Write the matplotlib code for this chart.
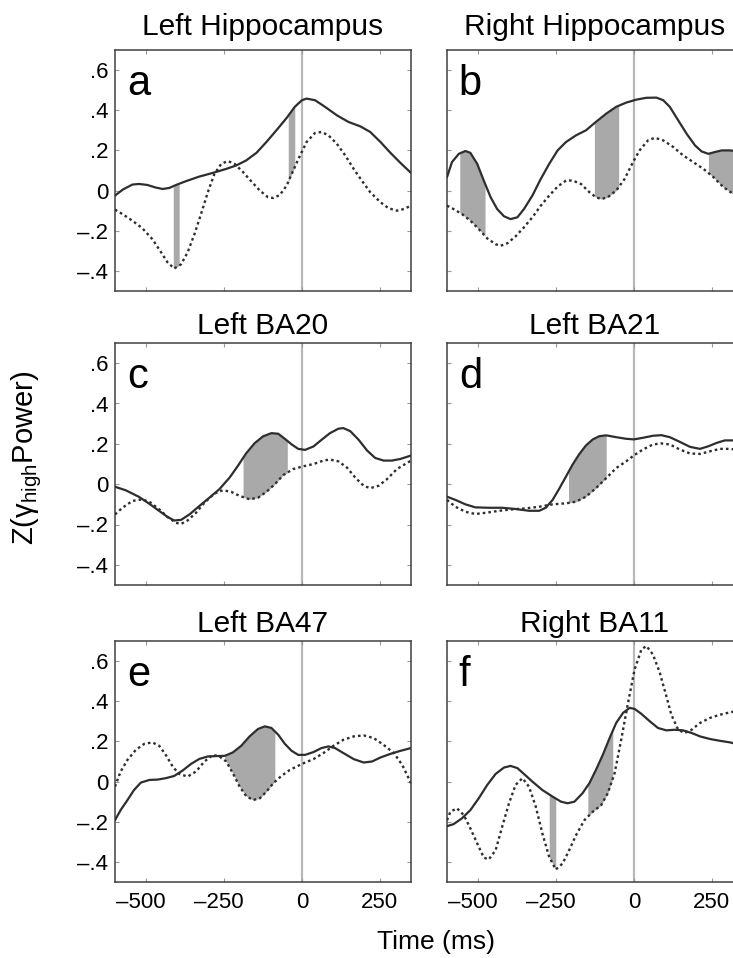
import numpy as np
import matplotlib
matplotlib.use("Agg")
import matplotlib.pyplot as plt
import matplotlib.transforms as mtransforms

plt.rcParams['font.family'] = ['Liberation Sans', 'DejaVu Sans']
plt.rcParams['mathtext.fontset'] = 'custom'
plt.rcParams['mathtext.rm'] = 'Liberation Sans'
plt.rcParams['mathtext.it'] = 'Liberation Sans:italic'

# ---------------------------------------------------------------- data
titles = ['Left Hippocampus', 'Right Hippocampus', 'Left BA20', 'Left BA21', 'Left BA47', 'Right BA11']
letters = ['a', 'b', 'c', 'd', 'e', 'f']

x_ticks = [-500, -250, 0, 250]
x_tick_labels = ['\u2013500', '\u2013250', '0', '250']
y_ticks = [-0.4, -0.2, 0, 0.2, 0.4, 0.6]
y_tick_labels = ['\u2013.4', '\u2013.2', '0', '.2', '.4', '.6']

# panel a
a_solid_ms = [-600, -575, -544, -523, -496, -469, -447, -426, -404, -372, -329, -286, -243, -211, -179, -146,
              -114, -82, -49, -23, 0, 15, 42, 74, 112, 149, 187, 219, 252, 284, 316, 350]
a_solid_z = [-0.025, 0.005, 0.03, 0.033, 0.028, 0.015, 0.008, 0.013, 0.028, 0.047, 0.07, 0.088, 0.108, 0.125,
             0.15, 0.188, 0.242, 0.3, 0.362, 0.417, 0.45, 0.458, 0.45, 0.417, 0.375, 0.342, 0.32, 0.292, 0.242,
             0.188, 0.138, 0.088]
a_dot_ms = [-600, -576, -544, -512, -480, -453, -431, -410, -388, -367, -345, -324, -302, -281, -259, -238, -216,
            -189, -162, -135, -109, -92, -71, -49, -28, -6, 15, 42, 63, 85, 112, 139, 166, 192, 219, 252, 278,
            305, 327, 350]
a_dot_z = [-0.095, -0.117, -0.15, -0.188, -0.242, -0.305, -0.358, -0.388, -0.367, -0.308, -0.217, -0.117, -0.008,
           0.083, 0.133, 0.147, 0.133, 0.092, 0.045, 0.0, -0.033, -0.037, -0.022, 0.025, 0.1, 0.175, 0.242, 0.287,
           0.292, 0.275, 0.233, 0.175, 0.108, 0.05, -0.008, -0.058, -0.088, -0.1, -0.092, -0.075]
a_shade = [(-413, -394), (-44, -23)]

# panel b
b_solid_ms = [-600, -584, -562, -541, -525, -503, -482, -460, -439, -417, -396, -374, -353, -326, -299, -272,
              -245, -218, -186, -154, -122, -89, -57, -25, 8, 40, 72, 94, 115, 142, 169, 196, 217, 239, 260, 282,
              309, 350]
b_solid_z = [0.067, 0.142, 0.183, 0.197, 0.188, 0.133, 0.05, -0.033, -0.092, -0.128, -0.142, -0.133, -0.092,
             -0.025, 0.058, 0.133, 0.2, 0.242, 0.275, 0.3, 0.342, 0.383, 0.417, 0.438, 0.453, 0.462, 0.463, 0.45,
             0.417, 0.35, 0.283, 0.225, 0.195, 0.183, 0.192, 0.2, 0.2, 0.192]
b_dot_ms = [-600, -579, -552, -525, -498, -471, -444, -428, -406, -380, -353, -326, -299, -272, -245, -218, -197,
            -170, -143, -122, -105, -84, -57, -30, -3, 18, 45, 67, 94, 126, 158, 190, 223, 255, 287, 319, 350]
b_dot_z = [-0.075, -0.092, -0.117, -0.15, -0.192, -0.238, -0.267, -0.275, -0.262, -0.228, -0.183, -0.133, -0.075,
           -0.025, 0.02, 0.05, 0.05, 0.033, -0.008, -0.033, -0.042, -0.033, 0.0, 0.058, 0.142, 0.2, 0.25, 0.263,
           0.25, 0.217, 0.175, 0.142, 0.108, 0.067, 0.017, -0.017, -0.033]
b_shade = [(-559, -478), (-127, -49), (239, 350)]

# panel c
c_solid_ms = [-600, -566, -523, -490, -458, -431, -410, -388, -361, -329, -297, -265, -232, -205, -179, -152,
              -125, -98, -76, -55, -33, -12, 10, 37, 63, 90, 117, 133, 155, 182, 209, 235, 262, 289, 316, 350]
c_solid_z = [-0.013, -0.03, -0.063, -0.097, -0.133, -0.163, -0.18, -0.177, -0.15, -0.108, -0.067, -0.025, 0.033,
             0.092, 0.153, 0.203, 0.237, 0.253, 0.25, 0.225, 0.197, 0.175, 0.17, 0.187, 0.22, 0.253, 0.275, 0.278,
             0.263, 0.22, 0.167, 0.13, 0.117, 0.117, 0.125, 0.142]
c_dot_ms = [-600, -576, -544, -512, -485, -458, -431, -404, -388, -367, -340, -313, -281, -254, -227, -200, -168,
            -141, -114, -87, -60, -28, 0, 37, 69, 90, 117, 144, 171, 198, 219, 246, 273, 305, 350]
c_dot_z = [-0.15, -0.117, -0.083, -0.075, -0.092, -0.125, -0.163, -0.192, -0.197, -0.18, -0.142, -0.092, -0.047,
           -0.03, -0.038, -0.058, -0.075, -0.067, -0.038, 0.0, 0.045, 0.075, 0.087, 0.1, 0.117, 0.122, 0.113, 0.083,
           0.033, -0.008, -0.02, -0.008, 0.025, 0.075, 0.117]
c_shade = [(-189, -47)]

# panel d
d_solid_ms = [-600, -573, -541, -509, -466, -423, -380, -337, -304, -283, -261, -240, -218, -197, -175, -154,
              -132, -111, -89, -57, -25, 0, 29, 61, 88, 115, 147, 180, 212, 239, 266, 292, 319, 350]
d_solid_z = [-0.062, -0.078, -0.1, -0.115, -0.117, -0.117, -0.123, -0.132, -0.132, -0.117, -0.078, -0.023, 0.038,
             0.097, 0.15, 0.192, 0.222, 0.238, 0.242, 0.233, 0.225, 0.222, 0.23, 0.24, 0.243, 0.233, 0.21, 0.185,
             0.175, 0.188, 0.205, 0.217, 0.217, 0.213]
d_dot_ms = [-600, -573, -541, -509, -476, -433, -390, -347, -304, -261, -218, -186, -154, -122, -89, -57, -25, 0,
            29, 61, 88, 115, 147, 180, 212, 244, 276, 309, 350]
d_dot_z = [-0.078, -0.112, -0.137, -0.148, -0.142, -0.132, -0.125, -0.12, -0.112, -0.1, -0.095, -0.087, -0.062,
           -0.02, 0.03, 0.08, 0.113, 0.143, 0.172, 0.197, 0.202, 0.197, 0.172, 0.152, 0.15, 0.163, 0.175, 0.175,
           0.167]
d_shade = [(-210, -89)]

# panel e
e_solid_ms = [-600, -582, -560, -539, -517, -490, -463, -437, -410, -383, -356, -329, -302, -275, -248, -222,
              -195, -168, -141, -119, -98, -76, -55, -33, -12, 10, 37, 63, 85, 106, 133, 166, 198, 225, 252, 284,
              316, 350]
e_solid_z = [-0.192, -0.142, -0.092, -0.042, -0.005, 0.008, 0.01, 0.017, 0.028, 0.055, 0.088, 0.113, 0.125, 0.127,
             0.128, 0.145, 0.178, 0.225, 0.262, 0.275, 0.267, 0.233, 0.188, 0.153, 0.133, 0.133, 0.147, 0.167,
             0.175, 0.167, 0.142, 0.112, 0.095, 0.1, 0.12, 0.138, 0.153, 0.167]
e_dot_ms = [-600, -582, -560, -533, -506, -480, -458, -437, -415, -394, -367, -340, -313, -286, -265, -243, -222,
            -200, -179, -157, -135, -114, -92, -66, -39, 0, 37, 69, 101, 133, 166, 198, 230, 262, 295, 322, 350]
e_dot_z = [-0.025, 0.05, 0.108, 0.158, 0.188, 0.195, 0.178, 0.133, 0.075, 0.038, 0.025, 0.05, 0.1, 0.133, 0.125,
           0.1, 0.042, -0.025, -0.072, -0.092, -0.083, -0.05, -0.008, 0.028, 0.058, 0.088, 0.112, 0.142, 0.178,
           0.208, 0.225, 0.23, 0.217, 0.183, 0.142, 0.083, -0.008]
e_shade = [(-248, -87)]

# panel f
f_solid_ms = [-600, -579, -552, -525, -498, -471, -444, -417, -396, -374, -353, -326, -294, -261, -234, -213,
              -191, -165, -143, -122, -100, -78, -57, -35, -14, 2, 24, 51, 77, 104, 131, 158, 185, 212, 244, 276,
              309, 350]
f_solid_z = [-0.222, -0.212, -0.183, -0.142, -0.083, -0.017, 0.038, 0.07, 0.078, 0.067, 0.038, 0.0, -0.042,
             -0.075, -0.1, -0.108, -0.1, -0.058, -0.008, 0.058, 0.133, 0.217, 0.292, 0.342, 0.367, 0.362, 0.337,
             0.3, 0.267, 0.255, 0.258, 0.255, 0.242, 0.225, 0.212, 0.203, 0.195, 0.178]
f_dot_ms = [-600, -589, -568, -546, -525, -503, -482, -466, -444, -423, -401, -380, -358, -337, -315, -294, -272,
            -251, -229, -208, -186, -159, -132, -105, -84, -62, -41, -19, 2, 24, 40, 61, 83, 104, 120, 142, 163,
            185, 212, 244, 276, 309, 350]
f_dot_z = [-0.192, -0.15, -0.133, -0.167, -0.233, -0.308, -0.378, -0.388, -0.342, -0.225, -0.108, -0.017, 0.017,
           -0.025, -0.125, -0.258, -0.375, -0.438, -0.408, -0.342, -0.267, -0.192, -0.15, -0.117, -0.058, 0.042,
           0.208, 0.392, 0.558, 0.658, 0.675, 0.633, 0.542, 0.425, 0.333, 0.258, 0.242, 0.258, 0.292, 0.317,
           0.333, 0.345, 0.355]
f_shade = [(-272, -251), (-148, -68)]


def draw_panel(ax, solid_ms, solid_z, dot_ms, dot_z, shades, letter, title, title_pad):

    # shaded significant windows between the two curves
    for t0, t1 in shades:
        pts = [t for t in solid_ms + dot_ms if t0 < t < t1]
        ts = np.array(sorted(set([t0, t1] + pts)), dtype=float)
        upper = np.interp(ts, solid_ms, solid_z)
        lower = np.interp(ts, dot_ms, dot_z)
        ax.fill_between(ts, upper, lower, color='#a9a9a9', lw=0, zorder=1)

    ax.axvline(0, color='#b8b8b8', lw=1.6, zorder=1.5)
    ax.plot(solid_ms, solid_z, color='#2e2e2e', lw=1.6, solid_capstyle='round', zorder=3)
    ax.plot(dot_ms, dot_z, color='#2e2e2e', lw=1.7, linestyle=(0, (1.1, 1.3)), zorder=3)

    ax.set_xlim(-600, 350)
    ax.set_ylim(-0.5, 0.7)
    ax.set_xticks(x_ticks)
    ax.set_yticks(y_ticks)
    ax.tick_params(direction='in', length=3, width=0.8, color='#999999', top=True, right=True,
                   labelsize=16, pad=5)
    for sp in ax.spines.values():
        sp.set_color('#404040')
        sp.set_linewidth(1.1)

    ax.text(0.04, 0.815, letter, transform=ax.transAxes, fontsize=30, va='baseline', ha='left')
    ax.set_title(title, fontsize=21.5, pad=title_pad)


def main():

    fig = plt.figure(figsize=(7.33, 9.58), dpi=100)

    left_cols = [115 / 733, 447 / 733]
    width = 296 / 733
    rows = [(1 - 291 / 958, 241 / 958), (1 - 585 / 958, 242 / 958), (1 - 882 / 958, 241 / 958)]
    pads = [11, 6.5, 6.5]

    series = [
        (a_solid_ms, a_solid_z, a_dot_ms, a_dot_z, a_shade),
        (b_solid_ms, b_solid_z, b_dot_ms, b_dot_z, b_shade),
        (c_solid_ms, c_solid_z, c_dot_ms, c_dot_z, c_shade),
        (d_solid_ms, d_solid_z, d_dot_ms, d_dot_z, d_shade),
        (e_solid_ms, e_solid_z, e_dot_ms, e_dot_z, e_shade),
        (f_solid_ms, f_solid_z, f_dot_ms, f_dot_z, f_shade),
    ]

    # negative tick labels hang the dash to the left of the number
    dash_shift = mtransforms.ScaledTranslation(-5 / 100, 0, fig.dpi_scale_trans)

    for i, s in enumerate(series):
        r, c = divmod(i, 2)
        bottom, height = rows[r]
        ax = fig.add_axes([left_cols[c], bottom, width, height])
        draw_panel(ax, *s, letters[i], titles[i], pads[r])

        if c == 0:
            ax.set_yticklabels(y_tick_labels)
        else:
            ax.set_yticklabels([])
        if r == 2:
            ax.set_xticklabels(x_tick_labels)
            ax.tick_params(axis='x', pad=7)
            for lab in ax.get_xticklabels():
                if lab.get_text().startswith('\u2013'):
                    lab.set_transform(lab.get_transform() + dash_shift)
        else:
            ax.set_xticklabels([])

    fig.text(27 / 733, 1 - 458 / 958, 'Z(\u03b3$_{\\mathrm{high}}$Power)', rotation=90,
             fontsize=21, ha='center', va='center')
    fig.text(436 / 733, 1 - 942 / 958, 'Time (ms)', fontsize=19, ha='center', va='center')

    fig.savefig('out.png', dpi=100)


if __name__ == "__main__":

    main()
